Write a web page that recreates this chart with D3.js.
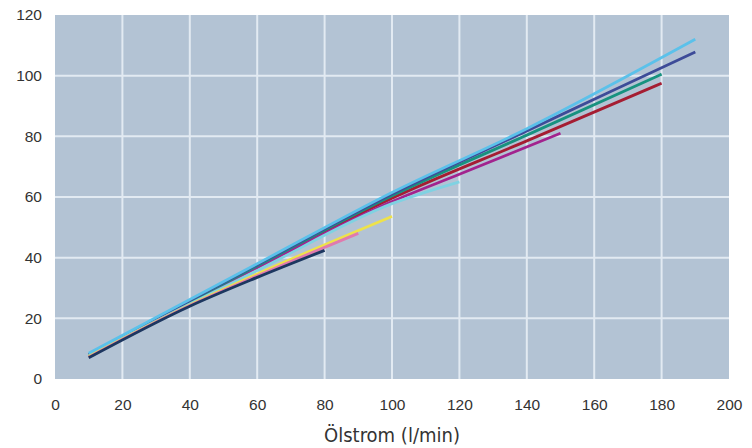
<!DOCTYPE html>
<html lang="de">
<head>
<meta charset="UTF-8">
<title>Ölstrom</title>
<style>
  body { margin: 0; background: #fff; }
</style>
</head>
<body>
<div id="chart"></div>
<script src="https://d3js.org/d3.v7.min.js"></script>
<script>
// tick values
const xTicks = [0, 20, 40, 60, 80, 100, 120, 140, 160, 180, 200];
const yTicks = [0, 20, 40, 60, 80, 100, 120];

// series: [x, y] pairs
const navy = [[10, 7], [40, 24], [60, 33.5], [80, 42.4]];
const pink = [[10, 7.2], [40, 24.2], [60, 34], [90, 48]];
const yellow = [[10, 7.5], [40, 24.4], [60, 34.6], [100, 53.6]];
const cyan = [[10, 7.8], [40, 24.7], [60, 35.8], [100, 57.8], [120, 65]];
const purple = [[10, 7.5], [60, 36.7], [100, 58.5], [120, 67.5], [150, 81]];
const red = [[10, 7.5], [60, 37], [100, 59.6], [140, 78.5], [180, 97.5]];
const teal = [[10, 7.8], [60, 37.3], [100, 60.4], [140, 80.4], [180, 100.5]];
const darkBlue = [[10, 8], [60, 37.7], [100, 61], [140, 81.8], [190, 107.8]];
const lightBlue = [[10, 8.5], [60, 38], [100, 61.5], [140, 82.5], [190, 112]];

const series = [
  { values: red, color: "#a51d32" },
  { values: purple, color: "#a2238e" },
  { values: teal, color: "#17927f" },
  { values: darkBlue, color: "#3d4b98" },
  { values: cyan, color: "#7fd2e2" },
  { values: yellow, color: "#eee24a" },
  { values: pink, color: "#e07aae" },
  { values: navy, color: "#1c3760" },
  { values: lightBlue, color: "#5bc1ea" }
];

const width = 752, height = 448;
const margin = { top: 15, right: 23, bottom: 69, left: 55 };
const w = width - margin.left - margin.right;
const h = height - margin.top - margin.bottom;

const svg = d3.select("#chart").append("svg")
  .attr("width", width)
  .attr("height", height);

const g = svg.append("g")
  .attr("transform", `translate(${margin.left},${margin.top})`);

const x = d3.scaleLinear().domain([0, 200]).range([0, w]);
const y = d3.scaleLinear().domain([0, 120]).range([h, 0]);

// plot background
g.append("rect")
  .attr("width", w)
  .attr("height", h)
  .attr("fill", "#b3c3d4");

// grid
g.append("g")
  .selectAll("line")
  .data(xTicks.slice(1, -1))
  .join("line")
  .attr("x1", d => x(d)).attr("x2", d => x(d))
  .attr("y1", 0).attr("y2", h)
  .attr("stroke", "#e2eaf2")
  .attr("stroke-width", 2);

g.append("g")
  .selectAll("line")
  .data(yTicks.slice(1, -1))
  .join("line")
  .attr("x1", 0).attr("x2", w)
  .attr("y1", d => y(d)).attr("y2", d => y(d))
  .attr("stroke", "#e2eaf2")
  .attr("stroke-width", 2);

// axes
const styleAxis = a => {
  a.select(".domain").remove();
  a.selectAll(".tick text")
    .style("font-family", "'Liberation Sans', Arial, sans-serif")
    .style("font-size", "15.5px")
    .attr("fill", "#333");
};

g.append("g")
  .attr("transform", `translate(0,${h})`)
  .call(d3.axisBottom(x).tickValues(xTicks).tickSize(0).tickPadding(20))
  .call(styleAxis);

g.append("g")
  .call(d3.axisLeft(y).tickValues(yTicks).tickSize(0).tickPadding(13))
  .call(styleAxis);

// lines
const line = d3.line()
  .x(d => x(d[0]))
  .y(d => y(d[1]))
  .curve(d3.curveMonotoneX);

g.append("g")
  .selectAll("path")
  .data(series)
  .join("path")
  .attr("d", d => line(d.values))
  .attr("fill", "none")
  .attr("stroke", d => d.color)
  .attr("stroke-width", 2.8);

// axis title
svg.append("text")
  .attr("x", margin.left + w / 2)
  .attr("y", 442)
  .attr("text-anchor", "middle")
  .style("font-family", "'Liberation Sans Narrow', 'DejaVu Sans Condensed', sans-serif")
  .style("font-size", "20px")
  .attr("fill", "#333")
  .text("Ölstrom (l/min)");
</script>
</body>
</html>
